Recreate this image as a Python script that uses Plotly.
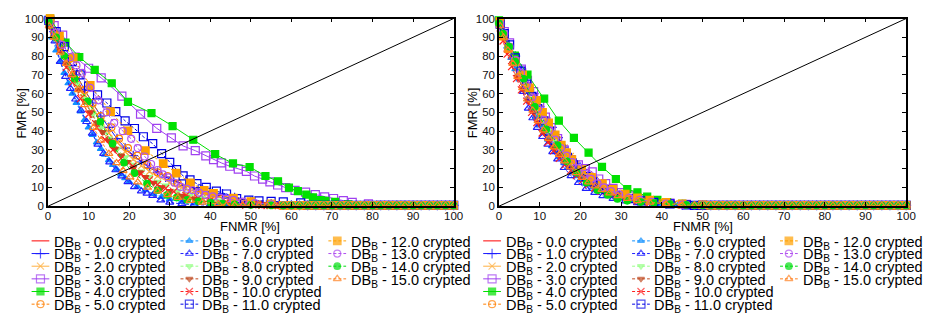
import plotly.graph_objects as go

W, H = 931, 321

LEVELS = ["0.0", "1.0", "2.0", "3.0", "4.0", "5.0", "6.0", "7.0",
          "8.0", "9.0", "10.0", "11.0", "12.0", "13.0", "14.0", "15.0"]

# ---------------- left panel data ----------------
L0_X = [0, 1, 2, 4, 6, 8, 10, 12, 14, 16, 18, 20, 22, 24, 26, 28, 30, 33, 36, 40, 45, 50, 55, 60]
L0_Y = [100, 95, 90, 82, 73, 64, 56, 49, 42, 36, 32, 28.5, 25.5, 22.5, 20, 17.5, 15, 12, 9.5, 7, 4.5, 2.8, 1.5, 0.8]
L1_X = [0.3, 1.5, 3, 5, 7, 9, 11, 13, 15, 17, 19, 21, 23, 25, 27, 29, 31, 34, 37, 40, 43, 46, 50, 55, 60]
L1_Y = [98, 93, 86, 78, 70, 62, 55, 48, 42, 36, 31, 27, 23.5, 20.5, 18, 15.5, 13.5, 11, 9, 7.5, 6.5, 4.5, 2.5, 1.2, 0.6]
L2_X = [0.3, 1.5, 3, 5, 7, 9, 11, 13, 15, 17, 19, 21, 23, 25, 27, 30, 33, 36, 40, 45, 50, 55]
L2_Y = [97, 92, 85, 76, 67, 59, 52, 45, 39, 34, 29, 25, 21.5, 18.5, 16, 12.5, 10, 8, 6, 3.5, 2, 1]
L3_X = [0.5, 1.5, 3.6, 6.7, 10, 13.1, 18.2, 22.8, 26.8, 30.4, 33.3, 36.3, 38.9, 40.8, 42.7, 44.8, 46.9, 48.9,
        50.9, 52.9, 54.7, 56.6, 58.6, 60.9, 63.5, 65.9, 68.2, 70.4, 72.8, 75, 79]
L3_Y = [99, 96.2, 91.1, 79.5, 73.5, 68.4, 58.6, 49.1, 41.5, 36.4, 32.1, 29.6, 26.8, 24.8, 23.1, 21.3, 19.8, 18.6,
        16.1, 14.4, 13.0, 11.3, 9.9, 8.4, 7.5, 6.2, 5.0, 4.1, 3.0, 2.0, 1.2]
L4_X = [0.5, 4.3, 7.7, 11.5, 15.7, 19.7, 25.5, 30.7, 35.8, 41.2, 45.6, 49.7, 53.6, 56.7, 59.4, 61.6, 63.7,
        65.3, 67.2, 68.4, 70.8, 74, 78]
L4_Y = [100, 87.2, 79.5, 72.6, 65.5, 55.6, 49.6, 42.7, 35.4, 27.7, 22.8, 20.9, 16.1, 13.3, 9.9, 8.0, 6.2,
        4.7, 3.2, 2.9, 2.3, 1.0, 0.5]
L5_X = [0.3, 1.5, 3, 5, 7, 9, 11, 13, 15.6, 17.5, 19.7, 22, 24.5, 27, 29.4, 32, 34.3, 37, 39.2, 42, 45, 48, 52, 56]
L5_Y = [97, 92, 86, 78, 70, 62, 55, 48, 42, 36, 31, 27, 22, 18, 16, 12, 8.6, 6, 4.3, 3.2, 2.3, 1.6, 1, 0.6]
L6_X = [0.3, 1, 2, 3, 4, 5, 6, 7, 8, 9, 10, 11, 12, 13, 14, 15, 16, 17, 18, 19, 20, 22, 24, 26, 28, 30, 33, 36, 40]
L6_Y = [96, 90, 83, 77, 71, 65.5, 60, 55, 50.5, 46, 42, 38, 34, 30.5, 27.5, 24.5, 22, 19.5, 17, 15, 13, 10.5,
        8.5, 6.5, 5, 3.8, 2.4, 1.5, 0.8]
L7_X = [0.3, 1.7, 3, 4.3, 5.5, 6.8, 8.1, 9.5, 10.9, 12.3, 13.7, 15.2, 16.7, 18.2, 19.7, 21.3, 23, 24.4, 25.8,
        27.8, 30, 33, 36, 40]
L7_Y = [96, 88, 77, 69, 62.7, 57, 51, 45, 38.8, 33, 28, 23.5, 19.3, 16, 13, 10.3, 8, 6.8, 5.6, 3.2, 2, 1.2, 0.8, 0.5]
L8_X = [0.3, 1.5, 3, 5, 7, 9, 11, 13, 15, 17, 19, 21, 23, 25, 27, 29, 32, 35, 38, 42, 46, 50]
L8_Y = [96, 90, 83, 74, 65, 57, 49, 42, 36, 30.5, 26, 22, 18.5, 15.5, 13, 11, 8, 6, 4.5, 3, 2, 1.2]
L9_X = [0.3, 1.5, 3, 4.5, 6, 7.5, 9, 10.5, 12, 13.5, 15, 16.5, 18, 19.5, 21, 22.5, 24, 26, 28, 30, 33, 36, 40, 45]
L9_Y = [96, 90, 83, 76, 69, 62, 56, 50, 44.5, 39.5, 35, 30.5, 27, 23.5, 20.5, 18, 15.5, 12.5, 10, 8, 5.5, 3.8, 2.2, 1.2]
L10_X = [0.3, 1.5, 3, 4.5, 6, 8, 10, 12, 14, 16, 18, 20.9, 22.9, 25, 27, 29, 31, 34, 37, 40, 44, 48, 52]
L10_Y = [97, 91, 83, 74, 66, 57.3, 49, 42, 35.5, 30, 25.5, 21.4, 17.1, 14, 11.5, 9.5, 7.8, 5.8, 4.3, 3.2, 2.2, 1.4, 0.8]
L11_X = [0.2, 2, 4, 6, 7.9, 10, 12.2, 14.5, 16.7, 19, 21.3, 23.5, 25.8, 28, 30, 31.7, 33.3, 35, 36.7, 39, 41.5,
         44, 46.5, 49.5, 52, 55, 58, 62.3]
L11_Y = [99, 93, 85, 77, 70, 64, 59.3, 55, 50.4, 45.5, 41.4, 37, 33.3, 28, 23.4, 19.5, 16.2, 14, 12, 10, 8,
         6.5, 4, 3.2, 2.9, 2.6, 2.3, 1.8]
L12_X = [0.5, 2.8, 6.2, 10.4, 15.4, 19.7, 24, 28.4, 31.6, 35.1, 38.5, 40.8, 45.7, 50, 55]
L12_Y = [100, 90.6, 79, 64.4, 50.4, 40.2, 29.6, 22.7, 17.6, 12.5, 8.5, 6.8, 4.3, 2.5, 1.2]
L13_X = [0.3, 1.9, 3.5, 5.5, 7, 8.4, 10.4, 12.4, 14.4, 16.3, 18.4, 20.5, 22.1, 23.8, 25.4, 27, 28.3, 29.7, 31.2,
         32.7, 34.2, 35.7, 37.2, 38.8, 40.6, 42.4, 44, 45.7, 48, 51, 55]
L13_Y = [98, 92.3, 86, 79.5, 75, 71, 63, 56.4, 50, 44.4, 40, 35.9, 31, 26.5, 22.5, 19.3, 17, 15.4, 12.5,
         10.3, 9.3, 8.5, 7.2, 6, 5.2, 4.6, 4, 3.4, 2.5, 1.7, 1]
L14_X = [0.2, 2, 4, 6.6, 9.8, 12.9, 15.9, 18.7, 21.3, 24.4, 27, 29.4, 31.7, 34.3, 37.1, 40.1, 43, 46, 50, 55]
L14_Y = [98.3, 90, 80, 67.9, 55.9, 45, 33.3, 23.1, 17.6, 12, 8.5, 6, 4.6, 3.4, 2.6, 1.9, 1.4, 1, 0.7, 0.5]
L15_X = [0.3, 1.5, 3, 4.5, 5.9, 7.5, 9, 11.2, 13, 15, 16.9, 18.5, 20.2, 22.1, 24.5, 27, 29.5, 32, 35, 38, 42]
L15_Y = [96, 90, 82, 76, 70, 62, 54, 41.9, 35, 28, 23.1, 19, 15.5, 12.8, 10, 8, 6, 4.5, 3, 2, 1.2]

# ---------------- right panel data ----------------
R0_X = [0, 1, 2, 3.5, 5, 6.5, 8, 10, 12, 14, 16, 18, 20, 22, 24, 26, 28, 30, 33, 36, 40, 45, 50]
R0_Y = [98, 92, 85, 77, 69, 62, 55, 47, 40, 33.5, 28, 23, 19, 15.5, 12.5, 10, 7.8, 6, 4, 2.8, 1.6, 0.9, 0.5]
R1_X = [0.3, 1.2, 2.5, 4, 5.5, 7, 8.5, 10, 11.5, 13, 14.5, 16, 17.5, 19, 20.5, 22, 23.5, 25, 27, 29, 31, 34,
        37, 41, 45, 50]
R1_Y = [97, 92, 86, 80, 73, 66, 60, 53, 47, 42, 36.5, 31.5, 27, 23, 19.5, 16.5, 13.5, 11, 8.5, 6.5, 5, 3.5,
        2.3, 1.4, 0.9, 0.5]
R2_X = [0.3, 1.2, 2.5, 4, 5.5, 7, 8.5, 10, 11.5, 13, 14.5, 16, 17.5, 19, 20.5, 22, 23.5, 25, 27, 29, 32, 35,
        38, 42, 46, 50]
R2_Y = [97, 91, 85, 78, 71, 64, 58, 52, 46, 40.5, 35.5, 31, 26.5, 22.5, 19.5, 16.5, 14, 11.5, 9, 7, 5, 3.5,
        2.4, 1.5, 1, 0.6]
R3_X = [0.3, 1.3, 2.6, 3.9, 5.5, 7, 8.5, 10, 11.4, 12.8, 14.4, 16, 17.7, 19.5, 21.2, 22.9, 24.5, 26.2, 28, 30,
        32, 35, 38, 42, 46, 50]
R3_Y = [98, 93, 87, 79.5, 73, 67, 61, 54, 47.5, 41.9, 36, 30, 24.8, 22, 20, 18.3, 14.5, 12, 9.5, 7.2, 5.5,
        3.8, 2.6, 1.6, 1, 0.6]
R4_X = [0, 3.9, 7, 11.1, 14.7, 18.4, 22, 25.3, 28.7, 31.5, 34, 36.4, 38.9, 41.3, 45, 50]
R4_Y = [99, 80.3, 70.1, 57.3, 45.6, 36.4, 28.5, 21, 14.5, 9.1, 7.4, 5.1, 3.4, 2.2, 1.2, 0.6]
R5_X = [0.3, 1.2, 2.4, 3.7, 5, 6.5, 8, 9.5, 11, 12.5, 14, 15.5, 17, 18.5, 20, 21.5, 23, 24.5, 26, 28, 30, 33,
        36, 40, 44, 48]
R5_Y = [97, 91, 84, 77, 70, 63, 56, 50, 44, 38.5, 33.5, 29, 25, 21.5, 18.5, 15.5, 13, 11, 9, 7, 5.5, 3.8,
        2.6, 1.6, 1, 0.6]
R6_X = [0.3, 1, 2, 3, 4, 5, 6, 7, 8, 9, 10, 11, 12, 13, 14, 15, 16, 17, 18, 19, 20, 21.5, 23, 25, 27, 29, 32,
        35, 39, 44]
R6_Y = [96, 91, 85, 79, 73, 67.5, 62, 57, 52, 47.5, 43, 39, 35.5, 32, 29, 26, 23, 20.5, 18, 16, 14, 12, 10,
        8, 6, 4.6, 3.2, 2.2, 1.3, 0.7]
R7_X = [0.3, 1.2, 2.4, 3.6, 4.8, 6, 7.2, 8.3, 9.4, 10.7, 12, 13.2, 14.4, 16, 17.7, 19.5, 21.4, 23.5, 25.5, 28,
        31, 34, 38, 43]
R7_Y = [96, 90, 83, 76, 69, 61, 52.1, 47, 41.9, 37, 33, 29, 25.1, 20.5, 16.2, 12.5, 9.4, 7.2, 5.5, 4, 2.7,
        1.8, 1.1, 0.6]
R8_X = [0.3, 1.2, 2.4, 3.7, 5, 6.4, 7.8, 9.2, 10.6, 12, 13.4, 14.8, 16.2, 17.6, 19, 20.5, 22, 23.6, 25.2, 27,
        29, 31.5, 34, 37, 41, 45]
R8_Y = [97, 91, 84, 77, 70, 63, 57, 51, 45, 40, 35, 30.5, 26.5, 23, 19.8, 16.8, 14.2, 12, 10, 8, 6.3, 4.7,
        3.4, 2.4, 1.5, 0.9]
R9_X = [0.3, 1.1, 2.2, 3.4, 4.6, 5.9, 7.2, 8.5, 9.8, 11.1, 12.4, 13.7, 15, 16.3, 17.6, 19, 20.4, 21.8, 23.3,
        25, 27, 29, 31.5, 34, 37, 41, 45]
R9_Y = [96, 90, 83, 76, 69, 62.5, 56, 50, 44.5, 39.5, 35, 31, 27.5, 24, 21, 18.2, 15.8, 13.5, 11.5, 9.5,
        7.5, 5.8, 4.2, 3, 2, 1.2, 0.7]
R10_X = [0.3, 1, 2, 3.1, 4.3, 5.5, 6.8, 8, 9.3, 10.6, 12, 13.4, 14.8, 16.2, 17.6, 19, 20.5, 22, 23.5, 25, 27,
         29, 31.5, 34, 37, 41, 45]
R10_Y = [95, 88, 81, 74.4, 68, 62, 56, 50, 44.5, 39, 34, 29.5, 25.5, 22, 19, 16.3, 13.8, 11.6, 9.7, 8, 6.4,
         5, 3.7, 2.7, 1.8, 1.1, 0.6]
R11_X = [0.3, 1.3, 2.6, 4, 5.4, 6.8, 8.1, 9.5, 11, 12.4, 13.8, 15.3, 16.8, 18.3, 19.8, 21.4, 23, 24.6, 26.3,
         28, 30, 32.5, 35, 38, 42, 46]
R11_Y = [97, 92, 86, 79, 72, 65, 58.5, 52, 45.5, 40, 35, 30.5, 26, 22, 18.8, 15.8, 13, 10.8, 8.8, 7, 5.5, 4,
         2.9, 2, 1.2, 0.7]
R12_X = [0.2, 1, 2.4, 4, 5.8, 7.5, 9.2, 10.7, 12.2, 13.8, 15.3, 16.6, 17.9, 20.3, 22.7, 25.4, 28, 31, 34, 37,
         41, 45, 50]
R12_Y = [98.3, 90.6, 84, 77, 70, 63, 56.4, 50, 44.4, 38, 32.5, 28.5, 24.8, 19.5, 15.4, 12, 9, 6.5, 4.5, 3.2,
         2, 1.2, 0.7]
R13_X = [0.3, 1.3, 2.6, 4, 5.4, 6.8, 8.2, 9.6, 11, 12.4, 13.8, 15.2, 16.6, 18, 19.5, 21, 22.6, 24.2, 25.8,
         27.5, 29.5, 32, 34.5, 37.5, 41, 45]
R13_Y = [97, 92, 85, 78, 71, 64.5, 58, 52, 46, 40.5, 35.5, 31, 27, 23.5, 20.3, 17.3, 14.6, 12.2, 10, 8, 6.3,
         4.6, 3.4, 2.3, 1.4, 0.8]
R14_X = [0, 1, 2.5, 4, 6.1, 8.8, 11.6, 14.4, 16.7, 19.1, 21.5, 24.2, 26.7, 29.1, 31.5, 34.8, 38, 42, 46]
R14_Y = [97.4, 92, 85, 77, 67.9, 53, 41, 32.5, 23.9, 17.9, 12.5, 8.5, 6, 3.9, 2.9, 2.2, 1.7, 1.1, 0.7]
R15_X = [0.3, 1.1, 2.2, 3.4, 4.6, 5.8, 7, 8.3, 9.6, 10.9, 12.2, 13.5, 14.8, 16.1, 17.5, 18.9, 20.4, 22, 23.6,
         25.3, 27.2, 29.2, 31.5, 34, 37, 41, 45]
R15_Y = [96, 90, 83, 76, 69, 63, 57, 51, 45.5, 40.5, 36, 31.5, 27.5, 24, 20.8, 17.8, 15.2, 12.8, 10.7, 8.8,
         7, 5.5, 4, 2.9, 2, 1.2, 0.7]

# flat tail of every curve along FMR ~ 0
TAIL_X = [40, 42, 44, 46, 48, 50, 52, 54, 56, 58, 60, 62, 64, 66, 68, 70, 72, 74, 76, 78, 80, 82, 84, 86,
          88, 90, 92, 94, 96, 98, 100]
TAIL_Y = [0.6, 0.6, 0.5, 0.5, 0.5, 0.5, 0.5, 0.4, 0.4, 0.4, 0.4, 0.4, 0.4, 0.4, 0.4, 0.4, 0.4, 0.4, 0.4, 0.4,
          0.4, 0.4, 0.4, 0.4, 0.4, 0.4, 0.4, 0.4, 0.4, 0.4, 0.4]

DIAG = [0, 100]
TICKS = [0, 10, 20, 30, 40, 50, 60, 70, 80, 90, 100]

LEFT_X = [L0_X, L1_X, L2_X, L3_X, L4_X, L5_X, L6_X, L7_X, L8_X, L9_X, L10_X, L11_X, L12_X, L13_X, L14_X, L15_X]
LEFT_Y = [L0_Y, L1_Y, L2_Y, L3_Y, L4_Y, L5_Y, L6_Y, L7_Y, L8_Y, L9_Y, L10_Y, L11_Y, L12_Y, L13_Y, L14_Y, L15_Y]
RIGHT_X = [R0_X, R1_X, R2_X, R3_X, R4_X, R5_X, R6_X, R7_X, R8_X, R9_X, R10_X, R11_X, R12_X, R13_X, R14_X, R15_X]
RIGHT_Y = [R0_Y, R1_Y, R2_Y, R3_Y, R4_Y, R5_Y, R6_Y, R7_Y, R8_Y, R9_Y, R10_Y, R11_Y, R12_Y, R13_Y, R14_Y, R15_Y]

# ---------------- styles ----------------
COLORS = ["#ff0000", "#1a1aff", "#ffb040", "#a040f0", "#00e000", "#ff7f00", "#1090ff", "#2020ff",
          "#98ff88", "#c04a20", "#ff2020", "#0000e6", "#ffa000", "#b050f0", "#00dd10", "#ff8020"]
SYMBOLS = [None, "cross-thin", "x-thin", "square-open", "square", "circle-open", "triangle-up",
           "triangle-up-open", "triangle-down", "triangle-down", "x-thin", "square-open", "square",
           "circle-open", "circle", "triangle-up-open"]
SIZES = [0, 7, 7, 8, 7, 7, 6, 7, 6, 6, 7, 8, 7.5, 7, 6.5, 7]
DASHES = ["solid"] * 5 + ["3px,2px"] * 11

FONT = "Liberation Sans, Arial, sans-serif"

fig = go.Figure()


def add_series(xs, ys, i, xa, ya):
    x = list(xs) + [t for t in TAIL_X if t > xs[-1] + 1]
    y = list(ys) + [TAIL_Y[k] for k, t in enumerate(TAIL_X) if t > xs[-1] + 1]
    kw = dict(x=x, y=y, xaxis=xa, yaxis=ya, showlegend=False, cliponaxis=False,
              line=dict(color=COLORS[i], width=1, dash=DASHES[i]), hoverinfo="skip")
    if SYMBOLS[i] is None:
        kw["mode"] = "lines"
    else:
        kw["mode"] = "lines+markers"
        kw["marker"] = dict(symbol=SYMBOLS[i], size=SIZES[i], color=COLORS[i],
                            line=dict(color=COLORS[i], width=1.2))
    fig.add_trace(go.Scatter(**kw))


for i in range(16):
    add_series(LEFT_X[i], LEFT_Y[i], i, "x", "y")
    add_series(RIGHT_X[i], RIGHT_Y[i], i, "x2", "y2")

for xa, ya in (("x", "y"), ("x2", "y2")):
    fig.add_trace(go.Scatter(x=DIAG, y=DIAG, xaxis=xa, yaxis=ya, mode="lines", showlegend=False,
                             line=dict(color="black", width=1), hoverinfo="skip"))

# ---------------- legend (drawn manually below each panel) ----------------
ROW0, ROWSTEP = 244, 13.15
SYM_X0 = [29, 180, 330]
TEXT_X0 = [50, 200, 351]
PANEL_OFFSET = [0, 458]
SYM_LEN = 18

annotations = []
for p, off in enumerate(PANEL_OFFSET):
    for i in range(16):
        col, row = i // 6, i % 6
        yc = ROW0 + ROWSTEP * row
        xs = SYM_X0[col] + off
        fig.add_trace(go.Scatter(
            x=[xs, xs + SYM_LEN / 2, xs + SYM_LEN], y=[yc, yc, yc], xaxis="x3", yaxis="y3",
            mode="lines" if SYMBOLS[i] is None else "lines+markers", showlegend=False, hoverinfo="skip",
            line=dict(color=COLORS[i], width=1, dash=DASHES[i]),
            marker=dict(symbol=SYMBOLS[i] or "circle", size=[0, SIZES[i], 0], color=COLORS[i],
                        line=dict(color=COLORS[i], width=1.2))))
        annotations.append(dict(
            x=(TEXT_X0[col] + off) / W, y=1 - (yc + 2) / H, xref="paper", yref="paper",
            xanchor="left", yanchor="middle", showarrow=False,
            text="DB<sub>B</sub> - " + LEVELS[i] + " crypted",
            font=dict(family=FONT, size=14.5, color="black")))

# axis titles
for cx in (251, 710):
    annotations.append(dict(x=cx / W, y=1 - 229.5 / H, xref="paper", yref="paper", showarrow=False,
                            xanchor="center", yanchor="middle", text="FNMR [%]",
                            font=dict(family=FONT, size=13, color="black")))
for cx in (19, 476):
    annotations.append(dict(x=cx / W, y=1 - 111 / H, xref="paper", yref="paper", showarrow=False,
                            xanchor="center", yanchor="middle", text="FMR [%]", textangle=-90,
                            font=dict(family=FONT, size=13, color="black")))

ydom = [1 - 208 / H, 1 - 13 / H]
axis_common = dict(range=[0, 100], tickvals=TICKS, ticks="inside", ticklen=4, tickwidth=1,
                   tickcolor="black", showline=True, linecolor="black", linewidth=1.5,
                   mirror="ticks", showgrid=False, zeroline=False,
                   tickfont=dict(family=FONT, size=11.5, color="#111"))

fig.update_layout(
    width=W, height=H, margin=dict(l=0, r=0, t=0, b=0),
    paper_bgcolor="white", plot_bgcolor="rgba(0,0,0,0)",
    showlegend=False,
    xaxis=dict(domain=[45.7 / W, 457 / W], anchor="y", ticklabelstandoff=-2, **axis_common),
    yaxis=dict(domain=ydom, anchor="x", **axis_common),
    xaxis2=dict(domain=[503 / W, 916 / W], anchor="y2", ticklabelstandoff=-2, **axis_common),
    yaxis2=dict(domain=ydom, anchor="x2", **axis_common),
    xaxis3=dict(domain=[0, 1], range=[0, W], anchor="y3", visible=False, fixedrange=True),
    yaxis3=dict(domain=[0, 1], range=[H, 0], anchor="x3", visible=False, fixedrange=True),
    annotations=annotations,
)

fig.write_html("out.html", config={"displayModeBar": False},
               post_script="document.body.style.margin='0';document.body.style.overflow='hidden';")
